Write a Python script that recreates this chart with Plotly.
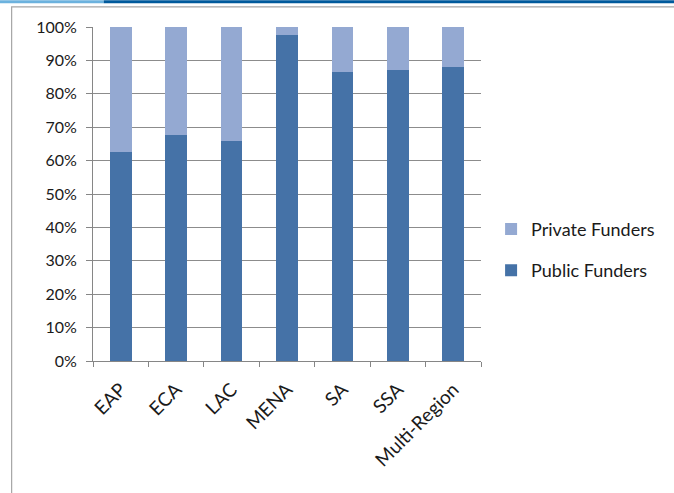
import plotly.graph_objects as go

regions = ["EAP", "ECA", "LAC", "MENA", "SA", "SSA", "Multi-Region"]
public_funders = [0.627, 0.676, 0.659, 0.975, 0.866, 0.870, 0.879]
private_funders = [round(1 - v, 3) for v in public_funders]

W, H = 674, 493
L, R, T, B = 93.3, 193, 26.7, 131.5
PW, PH = W - L - R, H - T - B


def px_x(x):
    return (x - L) / PW


def px_y(y):
    return (H - B - y) / PH


font_family = "Lato, 'Open Sans', sans-serif"

fig = go.Figure()
fig.add_trace(go.Bar(x=regions, y=public_funders, name="Public Funders",
                     marker=dict(color="#4572a7", line=dict(width=0)),
                     legendgroup="pub", legendrank=2))
fig.add_trace(go.Bar(x=regions, y=private_funders, name="Private Funders",
                     marker=dict(color="#94a9d2", line=dict(width=0)),
                     legendgroup="priv", legendrank=1))

shapes = [
    # top header strips
    dict(type="rect", xref="paper", yref="paper", x0=px_x(0), x1=px_x(104),
         y0=px_y(3), y1=px_y(0), fillcolor="#6cb2de", line=dict(width=0), layer="above"),
    dict(type="rect", xref="paper", yref="paper", x0=px_x(104), x1=px_x(W),
         y0=px_y(3), y1=px_y(0), fillcolor="#005a9c", line=dict(width=0), layer="above"),
    # outer frame
    dict(type="rect", xref="paper", yref="paper", x0=px_x(12), x1=px_x(W + 5),
         y0=px_y(H + 5), y1=px_y(6.5), fillcolor="rgba(0,0,0,0)",
         line=dict(color="#a6a6a6", width=1.2), layer="below"),
]

fig.update_layout(
    width=W, height=H,
    margin=dict(l=L, r=R, t=T, b=B, pad=0),
    paper_bgcolor="white", plot_bgcolor="white",
    barmode="stack", bargap=0.61,
    font=dict(family=font_family, size=16, color="#1a1a1a"),
    showlegend=True,
    legend=dict(x=1.026, xanchor="left", y=px_y(250), yanchor="middle",
                traceorder="grouped", tracegroupgap=15,
                font=dict(size=18, color="#1a1a1a"), bgcolor="rgba(0,0,0,0)"),
    shapes=shapes,
    xaxis=dict(showline=True, linecolor="#868686", linewidth=1,
               ticks="outside", tickson="boundaries", ticklen=5,
               tickcolor="#868686", tickangle=-45, showgrid=False,
               tickfont=dict(size=19), ticklabelstandoff=9),
    yaxis=dict(range=[0, 1], dtick=0.1, tickformat=".0%",
               showline=True, linecolor="#868686", linewidth=1,
               ticks="outside", ticklen=6, tickcolor="#868686",
               showgrid=True, gridcolor="#8c8c8c", gridwidth=1,
               zeroline=False, tickfont=dict(size=16), ticklabelstandoff=6),
)

fig.write_html("out.html", config={"displayModeBar": False},
               post_script="document.body.style.margin='0';")
